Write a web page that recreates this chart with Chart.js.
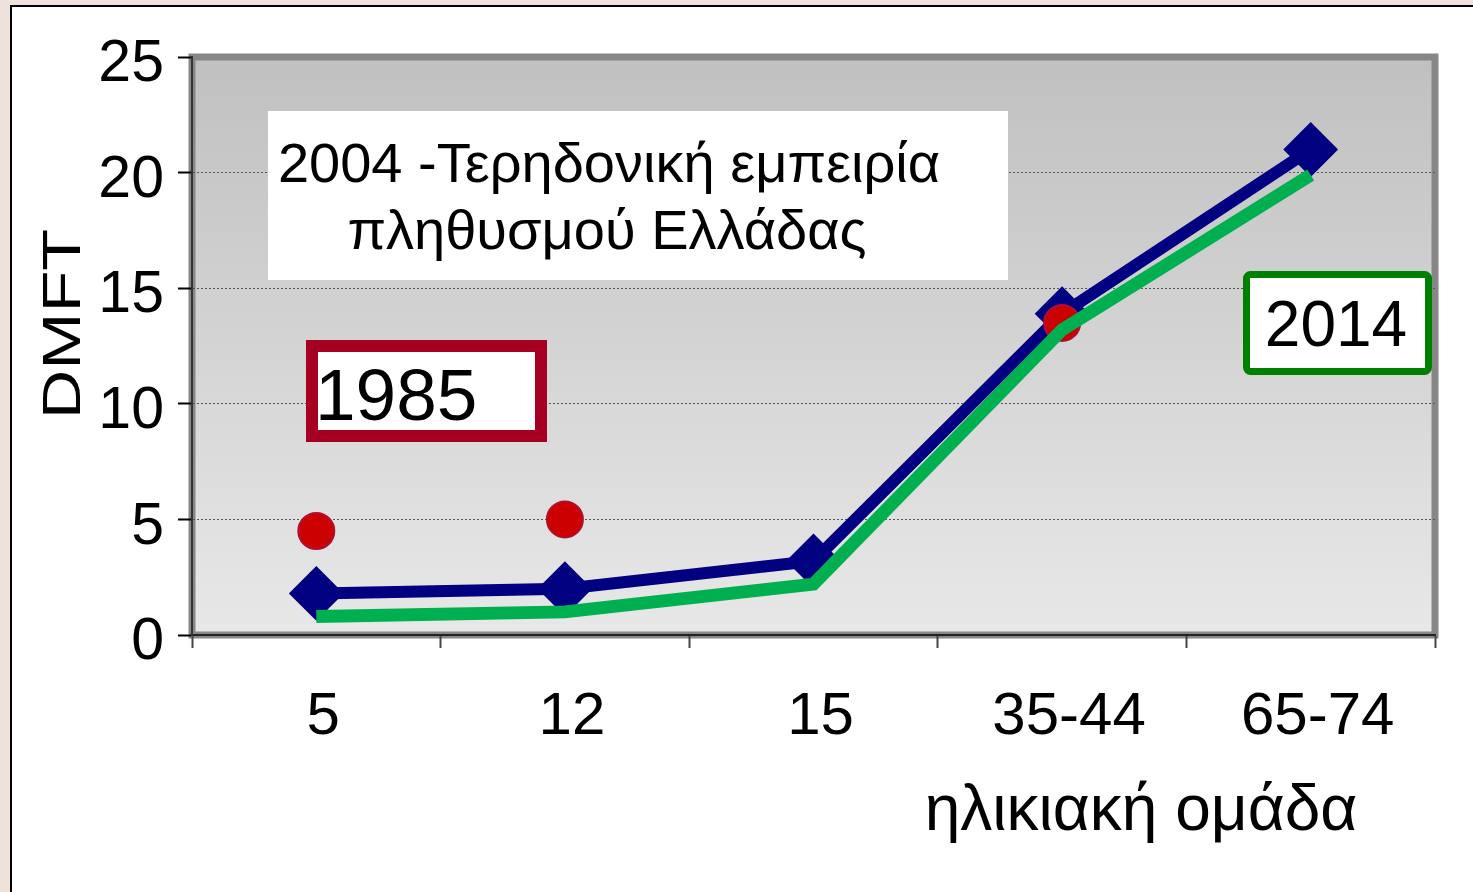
<!DOCTYPE html>
<html><head><meta charset="utf-8">
<script src="https://cdn.jsdelivr.net/npm/chart.js@4/dist/chart.umd.min.js"></script>
<style>
html,body{margin:0;padding:0;background:#efe1dc;overflow:hidden}
#wrap{position:absolute;left:0;top:0;width:1473px;height:892px}
canvas{display:block}
</style>
</head><body>
<div id="wrap"><canvas id="c" width="1473" height="892"></canvas></div>
<script>
// ---- data ----
const ageGroups = ['5', '12', '15', '35-44', '65-74'];
const dmft2004 = [1.8, 2.0, 3.2, 13.9, 21.0];
const dmft2014 = [0.8, 1.0, 2.2, 13.2, 19.9];
const dmft1985 = [4.5, 5.0, null, 13.5, null];
const yTickValues = [0, 5, 10, 15, 20, 25];
const yAxisTitle = 'DMFT';
const xAxisTitle = 'ηλικιακή ομάδα';
const boxTitle = ['2004 -Τερηδονική εμπειρία', 'πληθυσμού Ελλάδας'];
const label1985 = '1985';
const label2014 = '2014';

const FONT = '"Liberation Sans", Arial, Helvetica, sans-serif';

const decor = {
  id: 'decor',
  beforeDraw(chart) {
    const ctx = chart.ctx;
    const a = chart.chartArea;
    ctx.save();
    ctx.fillStyle = '#efe1dc';
    ctx.fillRect(0, 0, chart.width, chart.height);
    ctx.fillStyle = '#ffffff';
    ctx.fillRect(10, 5, chart.width, chart.height);
    ctx.strokeStyle = '#000';
    ctx.lineWidth = 2;
    ctx.beginPath();
    ctx.moveTo(11, chart.height + 2);
    ctx.lineTo(11, 6);
    ctx.lineTo(chart.width + 2, 6);
    ctx.stroke();
    // plot gradient
    const g = ctx.createLinearGradient(0, a.top, 0, a.bottom);
    g.addColorStop(0, '#c0c0c0');
    g.addColorStop(1, '#e8e8e8');
    ctx.fillStyle = g;
    ctx.fillRect(a.left, a.top, a.right - a.left, a.bottom - a.top);
    ctx.strokeStyle = '#878787';
    ctx.lineWidth = 7;
    ctx.strokeRect(a.left, a.top, a.right - a.left, a.bottom - a.top);
    ctx.restore();
  },
  afterDraw(chart) {
    const ctx = chart.ctx;
    ctx.save();
    ctx.fillStyle = '#000';
    // y axis title (slightly stretched along its length like the reference)
    ctx.save();
    ctx.font = '54px ' + FONT;
    ctx.translate(80, 324);
    ctx.rotate(-Math.PI / 2);
    ctx.scale(1.27, 1);
    ctx.textAlign = 'center';
    ctx.textBaseline = 'alphabetic';
    ctx.fillText(yAxisTitle, 0, 0);
    ctx.restore();
    // x axis title
    ctx.font = '64px ' + FONT;
    ctx.textAlign = 'center';
    ctx.textBaseline = 'alphabetic';
    ctx.fillText(xAxisTitle, 1141, 830);
    // 2004 box
    ctx.fillStyle = '#fff';
    ctx.fillRect(268, 111, 740, 169);
    ctx.fillStyle = '#000';
    ctx.font = '56px ' + FONT;
    ctx.fillText(boxTitle[0], 609, 182);
    ctx.fillText(boxTitle[1], 607, 249);
    // 1985 box
    ctx.fillStyle = '#fff';
    ctx.fillRect(312, 346, 229, 90);
    ctx.strokeStyle = '#a50021';
    ctx.lineWidth = 12;
    ctx.strokeRect(312, 346, 229, 90);
    ctx.fillStyle = '#000';
    ctx.font = '73px ' + FONT;
    ctx.textAlign = 'left';
    ctx.fillText(label1985, 315, 420);
    // 2014 box
    ctx.fillStyle = '#fff';
    ctx.strokeStyle = '#008000';
    ctx.lineWidth = 7;
    ctx.beginPath();
    ctx.roundRect(1246.5, 274.5, 182, 97, 4);
    ctx.fill();
    ctx.stroke();
    ctx.fillStyle = '#000';
    ctx.font = '64px ' + FONT;
    ctx.textAlign = 'center';
    ctx.fillText(label2014, 1336, 346);
    ctx.restore();
  }
};

new Chart(document.getElementById('c'), {
  type: 'line',
  data: {
    labels: ageGroups,
    datasets: [
      {
        label: '2014',
        data: dmft2014,
        borderColor: '#00b050',
        backgroundColor: '#00b050',
        borderWidth: 13,
        borderCapStyle: 'butt',
        pointRadius: 0,
        tension: 0,
        fill: false
      },
      {
        label: '1985',
        data: dmft1985,
        showLine: false,
        pointStyle: 'circle',
        pointRadius: 18,
        pointBackgroundColor: '#cc0000',
        pointBorderColor: '#b01030',
        pointBorderWidth: 2
      },
      {
        label: '2004',
        data: dmft2004,
        borderColor: '#000080',
        backgroundColor: '#000080',
        borderWidth: 12,
        tension: 0,
        pointStyle: 'rectRot',
        pointRadius: 26,
        pointBackgroundColor: '#000080',
        pointBorderColor: '#000080',
        pointBorderWidth: 2,
        fill: false
      }
    ]
  },
  options: {
    responsive: false,
    animation: false,
    devicePixelRatio: 1,
    events: [],
    layout: { padding: { left: 0, top: 57, right: 38, bottom: 0 } },
    plugins: { legend: { display: false }, tooltip: { enabled: false } },
    scales: {
      x: {
        type: 'category',
        offset: true,
        grid: { offset: true, drawOnChartArea: false, tickLength: 13, tickColor: '#444', tickWidth: 2 },
        border: { color: '#222', width: 2 },
        ticks: { color: '#000', font: { size: 60, family: FONT }, padding: 33, maxRotation: 0, labelOffset: 7 },
        afterFit(s) { s.height = 257; }
      },
      y: {
        min: 0, max: 25,
        afterBuildTicks(s) { s.ticks = yTickValues.map(v => ({ value: v })); },
        grid: {
          color: (c) => (c.tick && (c.tick.value === 0 || c.tick.value === 25)) ? 'rgba(0,0,0,0)' : '#555',
          lineWidth: 1,
          tickLength: 14, tickColor: '#000', tickWidth: 2, tickBorderDash: []
        },
        border: { color: '#333', width: 2, dash: [2, 2] },
        ticks: { color: '#000', font: { size: 59, family: FONT }, padding: 14, labelOffset: 8 },
        afterFit(s) { s.width = 192; }
      }
    }
  },
  plugins: [decor]
});
</script>
</body></html>
